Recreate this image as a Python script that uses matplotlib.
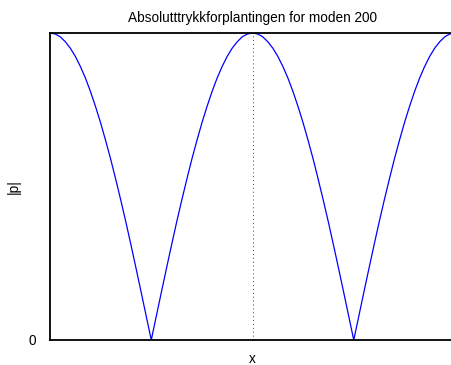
import matplotlib
matplotlib.use('Agg')
import matplotlib.pyplot as plt

plt.rcParams['font.family'] = ['Liberation Sans', 'DejaVu Sans']

# position along the duct (normalised) and pressure amplitude |p|
x = [i / 80 for i in range(81)]
p_abs = [1.000, 0.997, 0.988, 0.972, 0.951, 0.924, 0.891, 0.853, 0.809, 0.760,
         0.707, 0.649, 0.588, 0.522, 0.454, 0.383, 0.309, 0.233, 0.156, 0.078,
         0.000, 0.078, 0.156, 0.233, 0.309, 0.383, 0.454, 0.522, 0.588, 0.649,
         0.707, 0.760, 0.809, 0.853, 0.891, 0.924, 0.951, 0.972, 0.988, 0.997,
         1.000, 0.997, 0.988, 0.972, 0.951, 0.924, 0.891, 0.853, 0.809, 0.760,
         0.707, 0.649, 0.588, 0.522, 0.454, 0.383, 0.309, 0.233, 0.156, 0.078,
         0.000, 0.078, 0.156, 0.233, 0.309, 0.383, 0.454, 0.522, 0.588, 0.649,
         0.707, 0.760, 0.809, 0.853, 0.891, 0.924, 0.951, 0.972, 0.988, 0.997,
         1.000]
mid_x = 0.5

fig = plt.figure(figsize=(4.51, 3.65), dpi=100)
ax = fig.add_axes([0.1109, 0.0685, 0.898, 0.841])

ax.plot(x, p_abs, color='blue', linewidth=0.9)
ax.axvline(mid_x, color='#444444', linestyle=(0, (1, 3)), linewidth=0.7)

ax.set_xlim(0, 1)
ax.set_ylim(0, 1)
ax.set_xticks([])
ax.set_yticks([0])
ax.tick_params(axis='y', length=0, labelsize=9.8, pad=10)
for side in ['left', 'top', 'bottom']:
    ax.spines[side].set_linewidth(1.3)
ax.spines['right'].set_visible(False)

ax.set_title('Absolutttrykkforplantingen for moden 200', fontsize=9.8, pad=8)
ax.set_xlabel('x', fontsize=9.8, labelpad=9)
ax.set_ylabel('|p|', fontsize=9.8)
ax.yaxis.set_label_coords(-0.072, 0.5)

fig.savefig('out.png', dpi=100)
